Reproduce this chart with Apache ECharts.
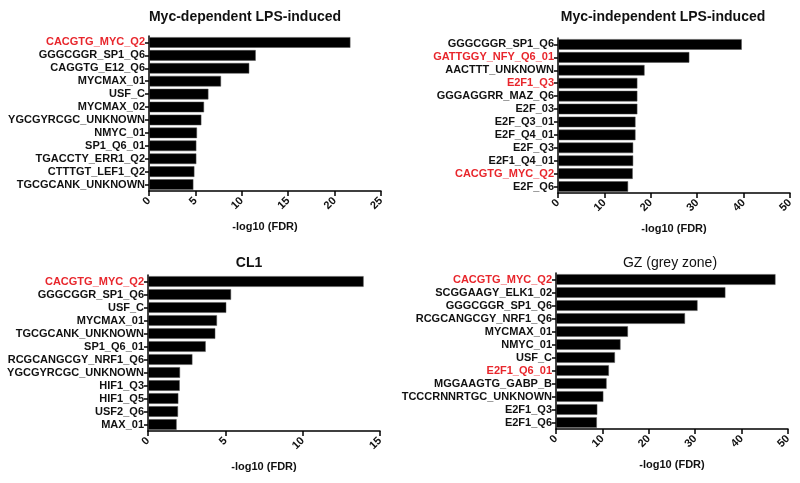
<!DOCTYPE html>
<html>
<head>
<meta charset="utf-8">
<script src="https://cdn.jsdelivr.net/npm/echarts@6/dist/echarts.min.js"></script>
<style>
  html, body { margin: 0; padding: 0; background: #fff; }
  #chart { width: 800px; height: 483px; }
</style>
</head>
<body>
<div id="chart"></div>
<script>
var red = '#e8262c';

// panel titles
var titles = ['Myc-dependent LPS-induced', 'Myc-independent LPS-induced', 'CL1', 'GZ (grey zone)'];
var titleWeights = ['bold', 'bold', 'bold', 'normal'];

// Myc-dependent LPS-induced
var depNames = ['CACGTG_MYC_Q2', 'GGGCGGR_SP1_Q6', 'CAGGTG_E12_Q6', 'MYCMAX_01', 'USF_C', 'MYCMAX_02',
    'YGCGYRCGC_UNKNOWN', 'NMYC_01', 'SP1_Q6_01', 'TGACCTY_ERR1_Q2', 'CTTTGT_LEF1_Q2', 'TGCGCANK_UNKNOWN'];
var depValues = [21.7, 11.5, 10.8, 7.76, 6.4, 5.93, 5.64, 5.17, 5.1, 5.1, 4.89, 4.78];
var depRed = ['CACGTG_MYC_Q2'];

// Myc-independent LPS-induced
var indNames = ['GGGCGGR_SP1_Q6', 'GATTGGY_NFY_Q6_01', 'AACTTT_UNKNOWN', 'E2F1_Q3', 'GGGAGGRR_MAZ_Q6', 'E2F_03',
    'E2F_Q3_01', 'E2F_Q4_01', 'E2F_Q3', 'E2F1_Q4_01', 'CACGTG_MYC_Q2', 'E2F_Q6'];
var indValues = [39.6, 28.3, 18.65, 17.1, 17.1, 17.1, 16.7, 16.7, 16.2, 16.2, 16.1, 15.1];
var indRed = ['GATTGGY_NFY_Q6_01', 'E2F1_Q3', 'CACGTG_MYC_Q2'];

// CL1
var cl1Names = ['CACGTG_MYC_Q2', 'GGGCGGR_SP1_Q6', 'USF_C', 'MYCMAX_01', 'TGCGCANK_UNKNOWN', 'SP1_Q6_01',
    'RCGCANGCGY_NRF1_Q6', 'YGCGYRCGC_UNKNOWN', 'HIF1_Q3', 'HIF1_Q5', 'USF2_Q6', 'MAX_01'];
var cl1Values = [13.94, 5.37, 5.06, 4.46, 4.35, 3.73, 2.87, 2.07, 2.05, 1.96, 1.94, 1.85];
var cl1Red = ['CACGTG_MYC_Q2'];

// GZ (grey zone)
var gzNames = ['CACGTG_MYC_Q2', 'SCGGAAGY_ELK1_02', 'GGGCGGR_SP1_Q6', 'RCGCANGCGY_NRF1_Q6', 'MYCMAX_01', 'NMYC_01',
    'USF_C', 'E2F1_Q6_01', 'MGGAAGTG_GABP_B', 'TCCCRNNRTGC_UNKNOWN', 'E2F1_Q3', 'E2F1_Q6'];
var gzValues = [47.3, 36.5, 30.5, 27.8, 15.5, 13.9, 12.7, 11.4, 10.9, 10.2, 8.9, 8.8];
var gzRed = ['CACGTG_MYC_Q2', 'E2F1_Q6_01'];

var xMax = [25, 50, 15, 50];
var xStep = [5, 10, 5, 10];

var panels = [
    {names: depNames, values: depValues, red: depRed},
    {names: indNames, values: indValues, red: indRed},
    {names: cl1Names, values: cl1Values, red: cl1Red},
    {names: gzNames, values: gzValues, red: gzRed}
];

var grids = [
    {left: 149, top: 36, width: 232, height: 155},
    {left: 558, top: 38, width: 232, height: 155},
    {left: 148, top: 275, width: 232, height: 156},
    {left: 556, top: 273, width: 232, height: 156}
];
var titlePos = [[240, 5], [658, 5], [244, 251], [665, 251]];

var font = '"Liberation Sans", Arial, Helvetica, sans-serif';

var option = {
    backgroundColor: '#fff',
    animation: false,
    title: [],
    grid: [],
    xAxis: [],
    yAxis: [],
    series: []
};

panels.forEach(function (p, i) {
    option.title.push({
        text: titles[i],
        left: titlePos[i][0],
        top: titlePos[i][1],
        textAlign: 'center',
        textStyle: {fontFamily: font, fontSize: 14, fontWeight: titleWeights[i], color: '#111'}
    });
    option.grid.push(grids[i]);
    option.xAxis.push({
        type: 'value',
        gridIndex: i,
        min: 0,
        max: xMax[i],
        interval: xStep[i],
        name: '-log10 (FDR)',
        nameLocation: 'middle',
        nameGap: 30,
        nameTextStyle: {fontFamily: font, fontSize: 11, fontWeight: 'bold', color: '#111'},
        axisLine: {show: true, lineStyle: {color: '#000', width: 1.5}},
        axisTick: {show: true, length: 5, lineStyle: {color: '#000', width: 1.5}},
        axisLabel: {rotate: 45, fontFamily: font, fontSize: 11, fontWeight: 'bold', color: '#111', margin: 8},
        splitLine: {show: false}
    });
    option.yAxis.push({
        type: 'category',
        gridIndex: i,
        inverse: true,
        data: p.names.map(function (n) {
            return p.red.indexOf(n) >= 0 ? {value: n, textStyle: {color: red}} : n;
        }),
        axisLine: {show: true, lineStyle: {color: '#000', width: 1.5}},
        axisTick: {show: true, alignWithLabel: true, length: 4, lineStyle: {color: '#000', width: 1.5}},
        axisLabel: {fontFamily: font, fontSize: 11, fontWeight: 'bold', color: '#111', margin: 4, interval: 0}
    });
    option.series.push({
        type: 'bar',
        xAxisIndex: i,
        yAxisIndex: i,
        data: p.values,
        barCategoryGap: '18%',
        itemStyle: {color: '#000', borderColor: '#555', borderWidth: 0.5}
    });
});

var chart = echarts.init(document.getElementById('chart'));
chart.setOption(option);
</script>
</body>
</html>
